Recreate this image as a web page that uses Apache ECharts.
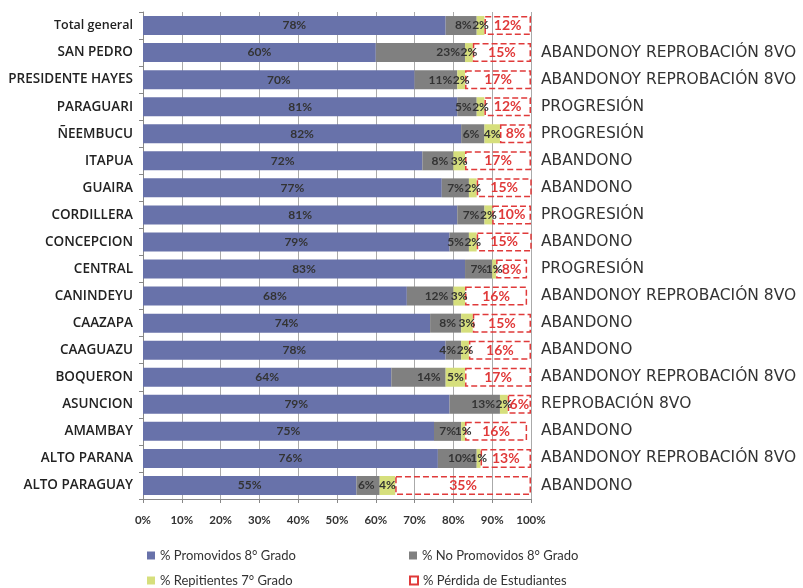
<!DOCTYPE html>
<html>
<head>
<meta charset="utf-8">
<script src="https://cdn.jsdelivr.net/npm/echarts@6/dist/echarts.min.js"></script>
<style>
    html, body { margin: 0; padding: 0; background: #fff; }
    #chart { width: 803px; height: 588px; }
</style>
</head>
<body>
<div id="chart"></div>
<script>
    var departamentos = ['Total general', 'SAN PEDRO', 'PRESIDENTE HAYES', 'PARAGUARI', 'ÑEEMBUCU', 'ITAPUA',
        'GUAIRA', 'CORDILLERA', 'CONCEPCION', 'CENTRAL', 'CANINDEYU', 'CAAZAPA', 'CAAGUAZU', 'BOQUERON',
        'ASUNCION', 'AMAMBAY', 'ALTO PARANA', 'ALTO PARAGUAY'];
    var evaluacion = ['', 'ABANDONOY REPROBACIÓN 8VO', 'ABANDONOY REPROBACIÓN 8VO', 'PROGRESIÓN', 'PROGRESIÓN',
        'ABANDONO', 'ABANDONO', 'PROGRESIÓN', 'ABANDONO', 'PROGRESIÓN', 'ABANDONOY REPROBACIÓN 8VO', 'ABANDONO',
        'ABANDONO', 'ABANDONOY REPROBACIÓN 8VO', 'REPROBACIÓN 8VO', 'ABANDONO', 'ABANDONOY REPROBACIÓN 8VO',
        'ABANDONO'];
    var promovidos = [78, 60, 70, 81, 82, 72, 77, 81, 79, 83, 68, 74, 78, 64, 79, 75, 76, 55];
    var noPromovidos = [8, 23, 11, 5, 6, 8, 7, 7, 5, 7, 12, 8, 4, 14, 13, 7, 10, 6];
    var repitientes = [2, 2, 2, 2, 4, 3, 2, 2, 2, 1, 3, 3, 2, 5, 2, 1, 1, 4];
    var perdida = [12, 15, 17, 12, 8, 17, 15, 10, 15, 8, 16, 15, 16, 17, 6, 16, 13, 35];
    var ticks = [0, 10, 20, 30, 40, 50, 60, 70, 80, 90, 100];
    var nombres = ['% Promovidos 8° Grado', '% No Promovidos 8° Grado', '% Repitientes 7° Grado', '% Pérdida de Estudiantes'];

    var fuente = 'Lato, "Open Sans", sans-serif';
    var barW = 19;

    function etiqueta (pos, color) {
        return {
            show: true,
            position: pos,
            formatter: '{c}%',
            color: color || '#333',
            fontFamily: fuente,
            fontSize: 12,
            fontWeight: 'bold'
        };
    }

    // leyenda en 2x2, una por item
    function leyenda (nombre, x, y) {
        return {
            left: x, top: y,
            itemWidth: 8, itemHeight: 8, icon: 'rect',
            textStyle: { fontFamily: fuente, fontSize: 13, color: '#333' },
            data: [nombre]
        };
    }

    var myChart = echarts.init(document.getElementById('chart'));
    var option = {
        animation: false,
        textStyle: { fontFamily: fuente },
        grid: { left: 143, right: 272, top: 12, bottom: 89 },
        legend: [
            leyenda(nombres[0], 142, 544),
            leyenda(nombres[1], 404, 544),
            leyenda(nombres[2], 142, 569),
            leyenda(nombres[3], 404, 569)
        ],
        xAxis: {
            type: 'value',
            min: 0,
            max: 100,
            interval: 10,
            axisLine: { show: true, lineStyle: { color: '#888' } },
            axisTick: { show: true, length: 4, lineStyle: { color: '#888' } },
            splitLine: { show: true, lineStyle: { color: '#aaa', width: 1 } },
            axisLabel: {
                color: '#333', fontSize: 11.5, fontWeight: 'bold', margin: 15,
                formatter: function (v) { return ticks.indexOf(v) >= 0 ? v + '%' : ''; }
            }
        },
        yAxis: [
            {
                type: 'category',
                inverse: true,
                data: departamentos,
                axisLine: { show: true, lineStyle: { color: '#888' } },
                axisTick: { show: true, length: 4, lineStyle: { color: '#888' } },
                axisLabel: {
                    color: '#222', fontSize: 13.5, fontWeight: 600, margin: 10,
                    fontFamily: '"Open Sans", sans-serif',
                    formatter: function (v) { return v === 'Total general' ? '{chico|' + v + '}' : v; },
                    rich: { chico: { fontSize: 12.5, fontWeight: 600, fontFamily: '"Open Sans", sans-serif', color: '#222' } }
                }
            },
            {
                type: 'category',
                inverse: true,
                position: 'right',
                data: evaluacion,
                axisLine: { show: false },
                axisTick: { show: false },
                axisLabel: {
                    color: '#333', fontSize: 15.5, margin: 10,
                    fontFamily: '"DejaVu Sans", sans-serif'
                }
            }
        ],
        series: [
            {
                name: nombres[0],
                type: 'bar', stack: 'total', barWidth: barW,
                itemStyle: { color: '#6872AA' },
                label: etiqueta('inside'),
                data: promovidos
            },
            {
                name: nombres[1],
                type: 'bar', stack: 'total', barWidth: barW,
                itemStyle: { color: '#808080' },
                label: etiqueta('insideRight'),
                data: noPromovidos
            },
            {
                name: nombres[2],
                type: 'bar', stack: 'total', barWidth: barW,
                itemStyle: { color: '#D6DF7C' },
                label: etiqueta('inside'),
                data: repitientes
            },
            {
                name: nombres[3],
                type: 'bar', stack: 'total', barWidth: barW,
                itemStyle: {
                    color: 'rgba(255,255,255,0)',
                    borderColor: '#E03A3A',
                    borderWidth: 1.5,
                    borderType: 'dashed'
                },
                label: Object.assign(etiqueta('inside', '#E03A3A'), { fontSize: 14 }),
                data: perdida
            }
        ]
    };
    myChart.setOption(option);
</script>
</body>
</html>
